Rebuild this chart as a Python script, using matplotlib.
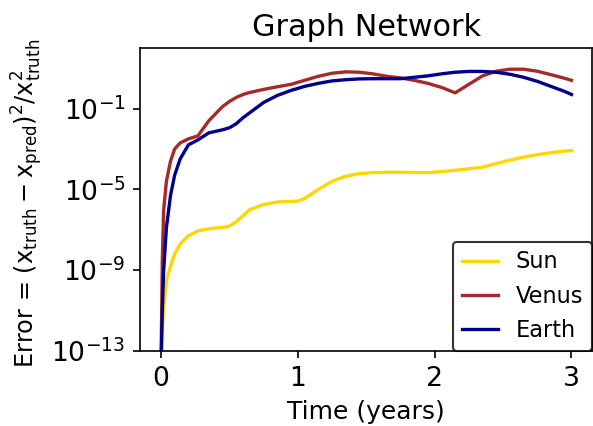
import numpy as np
import matplotlib
matplotlib.use("Agg")
import matplotlib.pyplot as plt

time_years = [0, 0.01, 0.02, 0.04, 0.07, 0.1, 0.14, 0.2, 0.27, 0.35, 0.45, 0.5, 0.55, 0.6,
              0.65, 0.75, 0.85, 0.95, 1.0, 1.05, 1.15, 1.25, 1.35, 1.45, 1.55, 1.65, 1.75,
              1.85, 1.95, 2.05, 2.15, 2.25, 2.35, 2.45, 2.55, 2.65, 2.75, 2.85, 2.95, 3.0]

sun_log_err = [-14, -11.8, -10.9, -9.5, -8.8, -8.2, -7.7, -7.3, -7.05, -6.95, -6.88, -6.82,
               -6.6, -6.3, -6.0, -5.75, -5.62, -5.6, -5.58, -5.45, -5.0, -4.6, -4.35, -4.22,
               -4.17, -4.15, -4.15, -4.16, -4.17, -4.12, -4.05, -3.98, -3.9, -3.72, -3.55,
               -3.4, -3.28, -3.18, -3.1, -3.08]

venus_log_err = [-14, -8.5, -6.0, -4.6, -3.6, -3.0, -2.7, -2.5, -2.35, -1.6, -0.9, -0.65,
                 -0.45, -0.3, -0.2, -0.05, 0.08, 0.2, 0.3, 0.4, 0.6, 0.75, 0.82, 0.8, 0.72,
                 0.6, 0.52, 0.4, 0.25, 0.05, -0.22, 0.2, 0.62, 0.85, 0.95, 0.95, 0.85, 0.68,
                 0.5, 0.4]

earth_log_err = [-14, -11, -9, -6.9, -5.3, -4.3, -3.5, -2.8, -2.55, -2.2, -2.05, -1.95,
                 -1.75, -1.45, -1.2, -0.7, -0.35, -0.1, 0.0, 0.1, 0.25, 0.37, 0.43, 0.47,
                 0.48, 0.48, 0.48, 0.55, 0.62, 0.72, 0.8, 0.84, 0.84, 0.8, 0.7, 0.55, 0.35,
                 0.1, -0.15, -0.3]

series_names = ["Sun", "Venus", "Earth"]
series_colors = ["gold", "brown", "darkblue"]
ytick_vals = [1e-13, 1e-9, 1e-5, 1e-1]

plt.rcParams['mathtext.default'] = 'regular'
fig = plt.figure(figsize=(593/150, 426/150), dpi=150)
ax = fig.add_axes([140/593, 1-351/426, 452/593, 303/426])

t = np.array(time_years)
for name, col, vals in zip(series_names, series_colors,
                           [sun_log_err, venus_log_err, earth_log_err]):
    ax.plot(t, 10.0**np.array(vals), color=col, label=name, lw=1.6)

ax.set_yscale('log')
ax.set_ylim(1e-13, 1e2)
ax.set_xlim(-0.153, 3.15)
ax.set_yticks(ytick_vals)
ax.yaxis.set_minor_locator(matplotlib.ticker.NullLocator())
ax.set_xticks([0, 1, 2, 3])
ax.tick_params(labelsize=12.8)
ax.set_title("Graph Network", fontsize=14.5)
ax.set_xlabel("Time (years)", fontsize=12)
ax.set_ylabel(r"Error = $(x_{truth} - x_{pred})^2/x_{truth}^2$", fontsize=11.5)
ax.yaxis.set_label_coords(-0.21, 0.487)
leg = ax.legend(loc="lower right", fontsize=10.8, borderaxespad=0.0, handlelength=1.6)
leg.get_frame().set_edgecolor("black")

fig.savefig("out.png", dpi=150)
